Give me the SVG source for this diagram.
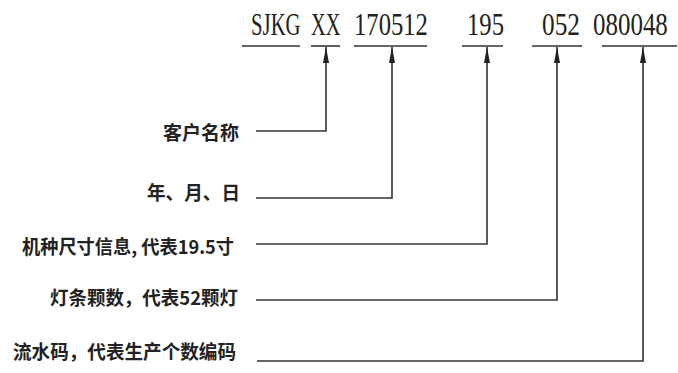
<svg xmlns="http://www.w3.org/2000/svg" width="678" height="373" viewBox="0 0 678 373">
<style>
.code{font-family:"Liberation Serif",serif;font-size:31px;fill:#222}
.lbl{font-family:"Noto Sans CJK SC","Liberation Sans",sans-serif;font-size:19px;font-weight:bold;fill:#222;text-anchor:end}
.ul{stroke:#333;stroke-width:1.6;fill:none}
.conn{stroke:#333;stroke-width:1.6;fill:none;marker-end:url(#arr)}
</style>
<defs>
<marker id="arr" markerUnits="userSpaceOnUse" markerWidth="18" markerHeight="8" refX="16" refY="4" orient="auto">
<path d="M0,1 L16,4 L0,7 Z" fill="#222"/>
</marker>
</defs>
<rect width="678" height="373" fill="#fff"/>
<g id="code">
<g id="seg-sjkg"><text class="code" transform="translate(251,35) scale(0.67,1)">SJKG</text><line class="ul" x1="242" y1="46" x2="300" y2="46"/></g>
<g id="seg-xx"><text class="code" transform="translate(311,35) scale(0.655,1)">XX</text><line class="ul" x1="311" y1="46" x2="340" y2="46"/></g>
<g id="seg-date"><text class="code" transform="translate(354,35) scale(0.795,1)">170512</text><line class="ul" x1="354" y1="46" x2="427" y2="46"/></g>
<g id="seg-size"><text class="code" transform="translate(467,35) scale(0.795,1)">195</text><line class="ul" x1="462" y1="46" x2="503" y2="46"/></g>
<g id="seg-led"><text class="code" transform="translate(542,35) scale(0.815,1)">052</text><line class="ul" x1="532" y1="46" x2="582" y2="46"/></g>
<g id="seg-serial"><text class="code" transform="translate(593,35) scale(0.805,1)">080048</text><line class="ul" x1="602" y1="46" x2="677" y2="46"/></g>
</g>
<g id="label-customer"><text class="lbl" x="239" y="140" textLength="76" lengthAdjust="spacingAndGlyphs">客户名称</text></g>
<g id="label-date"><text class="lbl" x="240" y="200" textLength="93" lengthAdjust="spacingAndGlyphs">年、月、日</text></g>
<g id="label-size"><text class="lbl" x="234" y="254" textLength="212" lengthAdjust="spacingAndGlyphs">机种尺寸信息, 代表19.5寸</text></g>
<g id="label-led"><text class="lbl" x="238" y="305" textLength="188" lengthAdjust="spacingAndGlyphs">灯条颗数，代表52颗灯</text></g>
<g id="label-serial"><text class="lbl" x="236" y="359" textLength="223" lengthAdjust="spacingAndGlyphs">流水码，代表生产个数编码</text></g>
<g id="connectors">
<polyline class="conn" points="256,131 326,131 326,47"/>
<polyline class="conn" points="256,198 392,198 392,47"/>
<polyline class="conn" points="256,244 487,244 487,47"/>
<polyline class="conn" points="256,300 557,300 557,47"/>
<polyline class="conn" points="257,361 643,361 643,47"/>
</g>
</svg>
